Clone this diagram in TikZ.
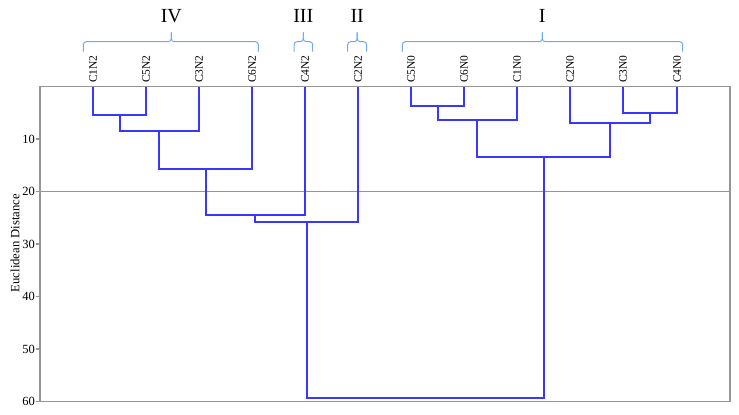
\documentclass[tikz,border=0pt]{standalone}
\usepackage{fontspec}
\setmainfont{Liberation Serif}
\definecolor{dendblue}{RGB}{55,55,255}
\definecolor{framegray}{RGB}{150,150,150}
\definecolor{cutblue}{RGB}{95,160,235}
\definecolor{braceblue}{RGB}{110,170,240}
\begin{document}
\begin{tikzpicture}[x=1pt,y=-1pt,
  dend/.style={draw=dendblue, line width=2pt},
  framebox/.style={draw=framegray, line width=1.7pt},
  cutline/.style={draw=cutblue, line width=1.3pt},
  bracel/.style={draw=braceblue, line width=1pt, rounded corners=3pt},
  leaf/.style={font=\fontsize{11.5}{12}\selectfont, rotate=90, anchor=west, inner sep=0pt},
  grp/.style={font=\fontsize{20}{22}\selectfont, inner sep=0pt},
  ticklab/.style={font=\fontsize{12.5}{13}\selectfont, anchor=east, inner sep=0pt},
  tickmark/.style={draw=framegray, line width=1.2pt}]
\useasboundingbox (0,0) rectangle (739,415);
% frame
\draw[framebox] (40,86.5) rectangle (730,401.5);
% cut line
\draw[cutline] (41,191.5) -- (729,191.5);
% ticks
\foreach \d in {10,20,30,40,50,60}{
  \draw[tickmark] (35.5,{86.5+5.25*\d}) -- (40,{86.5+5.25*\d});
  \node[ticklab] (t\d) at (35,{86.5+5.25*\d}) {\d};
}
\node[font=\fontsize{12.7}{13}\selectfont, rotate=90, inner sep=0pt] (ylab) at (15,243) {Euclidean Distance};
% leaves
\foreach \n/\lab/\x in {l1/C1N2/93,l2/C5N2/146,l3/C3N2/199,l4/C6N2/252,l5/C4N2/305,l6/C2N2/358,l7/C5N0/411,l8/C6N0/464,l9/C1N0/517,l10/C2N0/570,l11/C3N0/623,l12/C4N0/677}{
  \coordinate (\n) at (\x,86.5);
  \node[leaf] (lab\n) at (\x,83) {\lab};
}
% merges
\coordinate (m1) at (119.5,115);
\coordinate (m2) at (159,131);
\coordinate (m3) at (205.5,169);
\coordinate (m4) at (255,215);
\coordinate (m5) at (307,221.5);
\coordinate (n1) at (437.5,106);
\coordinate (n2) at (477,120);
\coordinate (n3) at (650,113);
\coordinate (n4) at (610,122.5);
\coordinate (n5) at (543.5,157);
\coordinate (r) at (425,397.7);
\draw[dend] (l1) |- (m1) -| (l2);
\draw[dend] (m1) |- (m2) -| (l3);
\draw[dend] (m2) |- (m3) -| (l4);
\draw[dend] (m3) |- (m4) -| (l5);
\draw[dend] (m4) |- (m5) -| (l6);
\draw[dend] (l7) |- (n1) -| (l8);
\draw[dend] (n1) |- (n2) -| (l9);
\draw[dend] (l11) |- (n3) -| (l12);
\draw[dend] (l10) |- (n4) -| (n3);
\draw[dend] (n2) |- (n5) -| (n4);
\draw[dend] (m5) |- (r) -| (n5);
% braces
\foreach \a/\m/\b/\g/\lab in {83.3/171.3/258.3/IV/IV,294/303.3/312.7/III/III,347.7/357.2/366.7/II/II,402.3/542.3/682.7/I/I}{
  \draw[bracel] (\a,51.7) -- (\a,41.7) -- (\m,41.7) -- (\m,32.3);
  \draw[bracel] (\b,51.7) -- (\b,41.7) -- (\m,41.7) -- (\m,32.3);
  \node[grp] (g\g) at (\m,16) {\lab};
}
\end{tikzpicture}
\end{document}
